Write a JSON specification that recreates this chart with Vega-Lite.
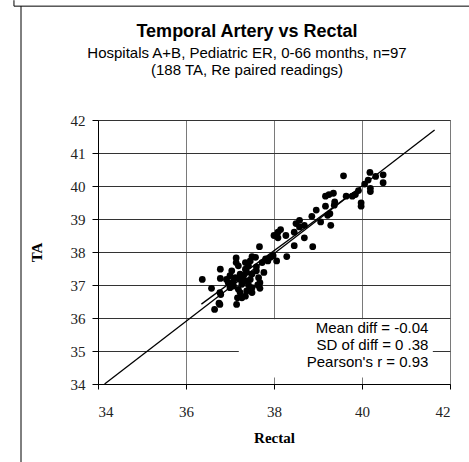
{
  "$schema": "https://vega.github.io/schema/vega-lite/v6.json",
  "width": 352,
  "height": 264,
  "autosize": "none",
  "padding": {"left": 98, "top": 120, "right": 19, "bottom": 78},
  "background": "white",
  "title": {
    "text": "Temporal Artery vs Rectal",
    "subtitle": ["Hospitals A+B, Pediatric ER, 0-66 months, n=97", "(188 TA, Re paired readings)"],
    "anchor": "middle",
    "frame": "group",
    "dx": -27,
    "offset": -78,
    "font": "Liberation Sans",
    "fontSize": 18,
    "fontWeight": "bold",
    "color": "black",
    "subtitleFont": "Liberation Sans",
    "subtitleFontSize": 15,
    "subtitleColor": "black",
    "subtitlePadding": 5,
    "subtitleLineHeight": 17
  },
  "config": {
    "view": {"stroke": "#808080", "strokeWidth": 1},
    "axis": {
      "labelFont": "Liberation Serif",
      "labelFontSize": 15,
      "labelColor": "#222",
      "titleFont": "Liberation Serif",
      "titleFontSize": 15,
      "titleFontWeight": "bold",
      "titleColor": "black",
      "domainColor": "black",
      "tickColor": "black",
      "gridWidth": 1
    }
  },
  "encoding": {
    "x": {"field": "Rectal", "type": "quantitative", "scale": {"domain": [34, 42], "nice": false, "zero": false},
      "axis": {"values": [34, 36, 38, 40, 42], "title": "Rectal", "tickSize": 5, "labelPadding": 15, "titlePadding": 11, "gridColor": "#7a7a7a"}},
    "y": {"field": "TA", "type": "quantitative", "scale": {"domain": [34, 42], "nice": false, "zero": false},
      "axis": {"values": [34, 35, 36, 37, 38, 39, 40, 41, 42], "title": "TA", "tickSize": 6, "labelPadding": 7, "titlePadding": 26, "gridColor": "#333333"}}
  },
  "layer": [
    {
      "data": {"values": [{"box": "stats", "Rectal": 37.2, "Rectal2": 41.61, "TA": 34.2, "TA2": 35.96}]},
      "mark": {"type": "rect", "fill": "white", "stroke": null},
      "encoding": {
        "x2": {"field": "Rectal2"},
        "y2": {"field": "TA2"}
      }
    },
    {
      "data": {"values": [
        {"seg": "identity", "Rectal": 34.15, "TA": 34.0},
        {"seg": "identity", "Rectal": 41.65, "TA": 41.7},
        {"seg": "fit", "Rectal": 36.35, "TA": 36.42},
        {"seg": "fit", "Rectal": 39.8, "TA": 39.8}
      ]},
      "mark": {"type": "line", "color": "black", "strokeWidth": 1.3},
      "encoding": {
        "detail": {"field": "seg"}
      }
    },
    {
      "data": {"values": [
        {"Rectal": 39.58, "TA": 40.31}, {"Rectal": 40.18, "TA": 40.41}, {"Rectal": 40.48, "TA": 40.34},
        {"Rectal": 40.48, "TA": 40.10}, {"Rectal": 40.31, "TA": 40.29}, {"Rectal": 40.14, "TA": 40.18},
        {"Rectal": 40.06, "TA": 40.06}, {"Rectal": 40.19, "TA": 39.83}, {"Rectal": 40.19, "TA": 39.93},
        {"Rectal": 39.92, "TA": 39.86}, {"Rectal": 39.85, "TA": 39.74}, {"Rectal": 39.78, "TA": 39.69},
        {"Rectal": 39.98, "TA": 39.49}, {"Rectal": 39.98, "TA": 39.39}, {"Rectal": 39.64, "TA": 39.69},
        {"Rectal": 39.35, "TA": 39.78}, {"Rectal": 39.25, "TA": 39.74}, {"Rectal": 39.17, "TA": 39.69},
        {"Rectal": 39.38, "TA": 39.52}, {"Rectal": 39.37, "TA": 39.42}, {"Rectal": 39.17, "TA": 39.39},
        {"Rectal": 38.96, "TA": 39.27}, {"Rectal": 38.86, "TA": 39.08}, {"Rectal": 39.06, "TA": 38.91},
        {"Rectal": 39.27, "TA": 39.16}, {"Rectal": 39.22, "TA": 39.11}, {"Rectal": 39.29, "TA": 38.81},
        {"Rectal": 38.58, "TA": 38.96}, {"Rectal": 38.50, "TA": 38.86}, {"Rectal": 38.58, "TA": 38.76},
        {"Rectal": 38.46, "TA": 38.60}, {"Rectal": 38.69, "TA": 38.81}, {"Rectal": 38.69, "TA": 38.43},
        {"Rectal": 38.15, "TA": 38.68}, {"Rectal": 38.09, "TA": 38.60}, {"Rectal": 38.00, "TA": 38.50},
        {"Rectal": 38.09, "TA": 38.43}, {"Rectal": 38.27, "TA": 38.50}, {"Rectal": 38.46, "TA": 38.19},
        {"Rectal": 38.88, "TA": 38.16}, {"Rectal": 38.29, "TA": 37.86}, {"Rectal": 37.67, "TA": 38.16},
        {"Rectal": 37.50, "TA": 37.86}, {"Rectal": 37.58, "TA": 37.84}, {"Rectal": 37.92, "TA": 37.84},
        {"Rectal": 38.06, "TA": 37.73}, {"Rectal": 37.86, "TA": 37.73}, {"Rectal": 37.98, "TA": 37.89},
        {"Rectal": 37.73, "TA": 37.68}, {"Rectal": 37.77, "TA": 37.38}, {"Rectal": 37.60, "TA": 37.43},
        {"Rectal": 37.14, "TA": 37.82}, {"Rectal": 37.14, "TA": 37.68}, {"Rectal": 37.42, "TA": 37.58},
        {"Rectal": 37.35, "TA": 37.48}, {"Rectal": 37.23, "TA": 37.33}, {"Rectal": 37.04, "TA": 37.43},
        {"Rectal": 37.00, "TA": 37.28}, {"Rectal": 36.78, "TA": 37.48}, {"Rectal": 36.78, "TA": 37.20},
        {"Rectal": 36.37, "TA": 37.17}, {"Rectal": 36.58, "TA": 36.90}, {"Rectal": 36.96, "TA": 37.07},
        {"Rectal": 37.08, "TA": 36.97}, {"Rectal": 37.27, "TA": 37.02}, {"Rectal": 37.46, "TA": 37.17},
        {"Rectal": 37.50, "TA": 36.92}, {"Rectal": 37.68, "TA": 37.07}, {"Rectal": 37.68, "TA": 36.90},
        {"Rectal": 37.38, "TA": 36.82}, {"Rectal": 37.23, "TA": 36.77}, {"Rectal": 37.27, "TA": 36.61},
        {"Rectal": 37.15, "TA": 36.41}, {"Rectal": 36.77, "TA": 36.77}, {"Rectal": 36.77, "TA": 36.41},
        {"Rectal": 36.65, "TA": 36.26}, {"Rectal": 37.12, "TA": 37.22}, {"Rectal": 37.31, "TA": 37.28},
        {"Rectal": 37.38, "TA": 37.38}, {"Rectal": 37.50, "TA": 37.33}, {"Rectal": 37.65, "TA": 37.22},
        {"Rectal": 37.19, "TA": 37.58}, {"Rectal": 37.08, "TA": 37.12}, {"Rectal": 37.35, "TA": 37.12},
        {"Rectal": 37.19, "TA": 36.87}, {"Rectal": 37.46, "TA": 37.73}, {"Rectal": 37.35, "TA": 37.68},
        {"Rectal": 37.00, "TA": 36.92}, {"Rectal": 36.92, "TA": 37.17}, {"Rectal": 37.35, "TA": 36.66},
        {"Rectal": 37.60, "TA": 37.55}, {"Rectal": 37.81, "TA": 37.79}, {"Rectal": 37.63, "TA": 37.00},
        {"Rectal": 37.42, "TA": 37.00}, {"Rectal": 37.23, "TA": 37.17}, {"Rectal": 36.79, "TA": 36.71},
        {"Rectal": 37.50, "TA": 36.77}, {"Rectal": 36.75, "TA": 36.45}, {"Rectal": 37.17, "TA": 36.61}
      ]},
      "mark": {"type": "circle", "size": 46, "color": "black", "opacity": 1}
    },
    {
      "data": {"values": [{"Rectal": 41.51, "TA": 35.54, "label": ["Mean diff = -0.04", "SD of diff = 0 .38", "Pearson's r = 0.93"]}]},
      "mark": {"type": "text", "align": "right", "baseline": "alphabetic", "font": "Liberation Sans", "fontSize": 15, "lineHeight": 17, "color": "black"},
      "encoding": {
        "text": {"field": "label"}
      }
    },
    {
      "data": {"values": [{"Rectal": 32.25, "TA": 45.45, "TA2": 31.2}]},
      "mark": {"type": "rule", "color": "black", "strokeWidth": 1},
      "encoding": {
        "y2": {"field": "TA2"}
      }
    },
    {
      "data": {"values": [{"Rectal": 32.09, "TA": 45.45, "TA2": 45.63}]},
      "mark": {"type": "rule", "color": "black", "strokeWidth": 1},
      "encoding": {
        "y2": {"field": "TA2"}
      }
    },
    {
      "data": {"values": [{"Rectal": 32.09, "Rectal2": 42.7, "TA": 45.45}]},
      "mark": {"type": "rule", "color": "black", "strokeWidth": 1},
      "encoding": {
        "x2": {"field": "Rectal2"}
      }
    }
  ]
}
